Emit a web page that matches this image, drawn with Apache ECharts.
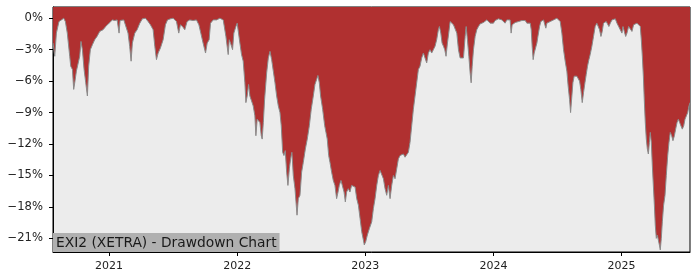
<!DOCTYPE html>
<html>
<head>
<meta charset="utf-8">
<script src="https://cdn.jsdelivr.net/npm/echarts@6/dist/echarts.min.js"></script>
<style>html,body{margin:0;padding:0;background:#fff}#c{width:700px;height:280px}</style>
</head>
<body>
<div id="c"></div>
<script>
const titleText = 'EXI2 (XETRA) - Drawdown Chart';
const yearTicks = [2021, 2022, 2023, 2024, 2025];
const pctTicks = [0, -3, -6, -9, -12, -15, -18, -21];
// dates as decimal years
const years = [
2020.563,2020.576,2020.589,2020.609,2020.628,2020.646,2020.659,2020.674,2020.693,2020.701,2020.714,2020.724,2020.734,2020.745,2020.760,2020.771,2020.781,2020.792,2020.805,2020.818,2020.831,2020.841,2020.854,2020.870,2020.888,2020.906,2020.927,2020.953,2020.974,
2021.000,2021.026,2021.044,2021.063,2021.073,2021.078,2021.086,2021.115,2021.130,2021.148,2021.161,2021.172,2021.182,2021.201,2021.219,2021.240,2021.260,2021.284,2021.305,2021.323,2021.344,2021.357,2021.370,2021.383,2021.401,2021.422,2021.440,2021.456,2021.479,2021.500,2021.526,2021.544,2021.557,2021.573,2021.591,2021.609,2021.630,2021.656,2021.682,2021.701,2021.716,2021.734,2021.753,2021.766,2021.781,2021.792,2021.813,2021.839,2021.865,2021.878,2021.891,2021.912,2021.930,2021.938,2021.948,2021.964,2021.974,2021.990,
2022.000,2022.008,2022.021,2022.034,2022.047,2022.060,2022.068,2022.078,2022.089,2022.099,2022.112,2022.125,2022.138,2022.146,2022.156,2022.167,2022.177,2022.188,2022.195,2022.204,2022.214,2022.230,2022.243,2022.256,2022.269,2022.282,2022.295,2022.308,2022.321,2022.334,2022.344,2022.355,2022.365,2022.375,2022.386,2022.396,2022.407,2022.417,2022.427,2022.438,2022.451,2022.459,2022.467,2022.477,2022.490,2022.503,2022.516,2022.532,2022.547,2022.563,2022.578,2022.594,2022.607,2022.620,2022.630,2022.641,2022.651,2022.667,2022.683,2022.693,2022.703,2022.714,2022.724,2022.737,2022.750,2022.763,2022.776,2022.787,2022.797,2022.810,2022.823,2022.834,2022.844,2022.854,2022.867,2022.880,2022.893,2022.907,2022.920,2022.933,2022.946,2022.959,2022.972,2022.985,2022.992,
2023.003,2023.016,2023.032,2023.050,2023.063,2023.076,2023.089,2023.102,2023.115,2023.128,2023.141,2023.154,2023.167,2023.180,2023.193,2023.206,2023.219,2023.232,2023.245,2023.258,2023.271,2023.284,2023.297,2023.310,2023.323,2023.336,2023.349,2023.362,2023.375,2023.388,2023.401,2023.414,2023.427,2023.440,2023.453,2023.466,2023.479,2023.492,2023.505,2023.518,2023.531,2023.544,2023.557,2023.570,2023.578,2023.589,2023.599,2023.610,2023.620,2023.630,2023.641,2023.651,2023.662,2023.675,2023.688,2023.701,2023.714,2023.727,2023.740,2023.753,2023.766,2023.779,2023.787,2023.797,2023.808,2023.818,2023.826,2023.834,2023.844,2023.857,2023.870,2023.883,2023.896,2023.909,2023.922,2023.935,2023.948,2023.961,2023.974,2023.987,
2024.000,2024.013,2024.026,2024.039,2024.052,2024.065,2024.078,2024.091,2024.104,2024.117,2024.130,2024.138,2024.146,2024.157,2024.170,2024.183,2024.196,2024.209,2024.222,2024.235,2024.248,2024.261,2024.274,2024.287,2024.295,2024.302,2024.310,2024.318,2024.329,2024.339,2024.347,2024.360,2024.370,2024.381,2024.391,2024.401,2024.409,2024.417,2024.430,2024.443,2024.456,2024.469,2024.482,2024.495,2024.508,2024.521,2024.534,2024.547,2024.560,2024.573,2024.583,2024.594,2024.602,2024.612,2024.620,2024.630,2024.641,2024.651,2024.662,2024.672,2024.682,2024.693,2024.703,2024.714,2024.724,2024.734,2024.745,2024.755,2024.768,2024.781,2024.794,2024.807,2024.818,2024.828,2024.839,2024.849,2024.859,2024.870,2024.880,2024.891,2024.901,2024.912,2024.925,2024.938,2024.951,2024.964,2024.977,2024.990,
2025.003,2025.011,2025.021,2025.032,2025.042,2025.055,2025.068,2025.081,2025.094,2025.107,2025.120,2025.133,2025.146,2025.154,2025.162,2025.170,2025.177,2025.185,2025.193,2025.201,2025.209,2025.217,2025.224,2025.232,2025.240,2025.248,2025.256,2025.263,2025.271,2025.279,2025.287,2025.295,2025.302,2025.310,2025.318,2025.328,2025.339,2025.349,2025.360,2025.370,2025.380,2025.391,2025.401,2025.412,2025.422,2025.433,2025.443,2025.453,2025.464,2025.474,2025.485,2025.495,2025.505,2025.516,2025.526,2025.534
];
// drawdown in percent
const drawdown = [
-2.37,-3.63,-1.42,-0.32,-0.16,0,-0.32,-1.42,-3.63,-4.58,-4.89,-6.79,-6.0,-5.05,-5.05,-3.63,-2.21,-3.0,-4.89,-6.16,-7.42,-4.58,-3.0,-2.53,-2.05,-1.74,-1.26,-1.1,-0.79,
-0.47,-0.16,-0.22,-0.16,-0.22,-1.42,-0.22,-0.16,-0.32,-1.42,-2.68,-4.1,-2.37,-1.42,-1.1,-0.47,-0.06,0,-0.32,-0.63,-1.1,-2.68,-3.95,-3.32,-2.84,-2.05,-0.63,-0.16,-0.06,0,-0.32,-1.42,-0.63,-0.79,-1.1,-0.32,-0.16,-0.22,-0.16,-0.63,-1.42,-2.37,-3.32,-2.37,-2.05,-0.47,-0.16,-0.16,0,0,-0.16,-1.74,-3.47,-2.05,-2.37,-3.0,-1.42,-0.79,
-0.47,-0.63,-2.37,-3.47,-4.10,-6.16,-8.05,-7.42,-6.32,-7.42,-7.89,-8.37,-9.31,-11.21,-9.63,-9.47,-9.95,-11.21,-11.53,-9.95,-7.74,-5.21,-3.79,-3.16,-3.95,-5.05,-6.16,-7.42,-8.37,-9.0,-10.26,-12.79,-13.10,-12.63,-14.68,-15.95,-14.37,-13.42,-12.79,-15.0,-16.26,-17.52,-18.79,-17.21,-16.89,-14.68,-13.74,-12.47,-11.53,-10.26,-8.68,-7.42,-6.32,-5.84,-5.46,-6.16,-7.42,-8.68,-10.26,-10.89,-11.53,-13.10,-13.74,-14.68,-15.47,-15.95,-17.21,-16.58,-15.95,-15.47,-15.47,-16.58,-17.52,-16.58,-16.26,-16.58,-15.95,-15.79,-16.10,-17.21,-17.84,-19.10,-20.37,-21.16,-21.63,
-21.32,-20.68,-20.05,-19.42,-18.16,-17.21,-15.95,-15.0,-14.52,-14.43,-15.31,-16.26,-16.89,-15.95,-17.21,-15.95,-15.0,-15.31,-14.37,-13.42,-13.10,-13.10,-12.95,-13.26,-13.10,-12.79,-11.84,-10.26,-8.68,-7.42,-6.16,-4.89,-4.58,-3.79,-3.32,-3.79,-4.26,-3.32,-3.0,-3.32,-3.0,-2.68,-2.05,-1.1,-0.79,-1.42,-2.37,-2.68,-3.0,-3.63,-2.37,-1.42,-0.32,-0.32,-0.63,-0.47,-1.42,-3.0,-3.79,-3.88,-3.79,-1.74,-0.79,-2.05,-3.63,-5.21,-6.16,-4.58,-3.0,-1.74,-1.1,-0.79,-0.54,-0.47,-0.41,-0.32,-0.16,-0.32,-0.47,-0.41,
-0.47,-0.22,-0.09,-0.06,0,-0.16,0,-0.47,-0.16,0,-0.16,-1.42,-0.63,-0.54,-0.41,-0.32,-0.32,-0.16,-0.22,-0.32,-0.22,-0.47,-0.32,-0.47,-1.1,-2.68,-3.95,-3.32,-3.16,-2.37,-1.74,-0.79,-0.32,-0.32,-0.16,-0.63,-0.95,-0.47,-0.32,-0.32,-0.16,-0.16,-0.09,0,0,-0.32,-1.42,-3.0,-4.10,-5.05,-6.47,-7.74,-9.0,-7.42,-6.16,-5.53,-5.53,-5.53,-5.37,-6.0,-6.79,-8.05,-7.10,-6.16,-5.37,-4.58,-3.95,-3.47,-2.68,-1.74,-0.79,-0.47,-0.41,-1.1,-1.74,-1.26,-0.47,-0.63,-0.32,-0.41,-0.79,-0.47,-0.16,0,-0.06,-0.47,-0.79,-0.95,
-1.42,-0.79,-1.26,-1.74,-1.42,-0.79,-0.63,-1.26,-0.63,-0.63,-0.47,-0.63,-0.79,-2.05,-3.63,-5.53,-7.74,-9.95,-11.53,-12.47,-12.95,-11.84,-10.89,-11.84,-14.05,-15.95,-17.84,-19.73,-21.0,-20.68,-21.16,-21.63,-22.10,-21.0,-19.42,-17.84,-16.89,-15.0,-13.10,-11.84,-10.89,-11.21,-11.68,-11.21,-10.58,-9.95,-9.63,-9.95,-10.10,-10.58,-10.26,-9.63,-9.47,-9.0,-8.37,-8.05
];

const chart = echarts.init(document.getElementById('c'), null, {renderer: 'canvas'});
const font = 'DejaVu Sans';
chart.setOption({
  animation: false,
  backgroundColor: '#ffffff',
  title: {
    text: titleText,
    left: 53, bottom: 28,
    backgroundColor: '#b0b0b0',
    padding: [2, 3, 1, 3],
    textStyle: {fontFamily: font, fontSize: 13.8, fontWeight: 'normal', color: '#1a1a1a', lineHeight: 16}
  },
  grid: {
    left: 53, right: 10, top: 7, bottom: 28,
    show: true, backgroundColor: '#ececec', borderColor: '#000', borderWidth: 1
  },
  xAxis: {
    type: 'value', min: 2020.5625, max: 2025.534,
    axisLine: {onZero: false, lineStyle: {color: '#000', width: 1}},
    axisTick: {show: true, length: 4, customValues: yearTicks, lineStyle: {color: '#000'}},
    axisLabel: {customValues: yearTicks, fontFamily: font, fontSize: 11, color: '#222', margin: 9,
      formatter: v => String(Math.round(v))},
    splitLine: {show: false}
  },
  yAxis: {
    type: 'value', min: -22.3, max: 1.07,
    axisLine: {onZero: false, lineStyle: {color: '#000', width: 1}},
    axisTick: {show: true, length: 4, customValues: pctTicks, lineStyle: {color: '#000'}},
    axisLabel: {customValues: pctTicks, fontFamily: font, fontSize: 11.6, color: '#222', margin: 10,
      formatter: v => (v < 0 ? '\u2212' : '') + Math.abs(Math.round(v)) + '%'},
    splitLine: {show: false}
  },
  series: [{
    type: 'line',
    data: years.map((y, i) => [y, drawdown[i]]),
    showSymbol: false,
    lineStyle: {color: '#8a8a8a', width: 1},
    areaStyle: {color: '#b03030', opacity: 1, origin: 'end'},
    z: 2
  }]
});
</script>
</body>
</html>
